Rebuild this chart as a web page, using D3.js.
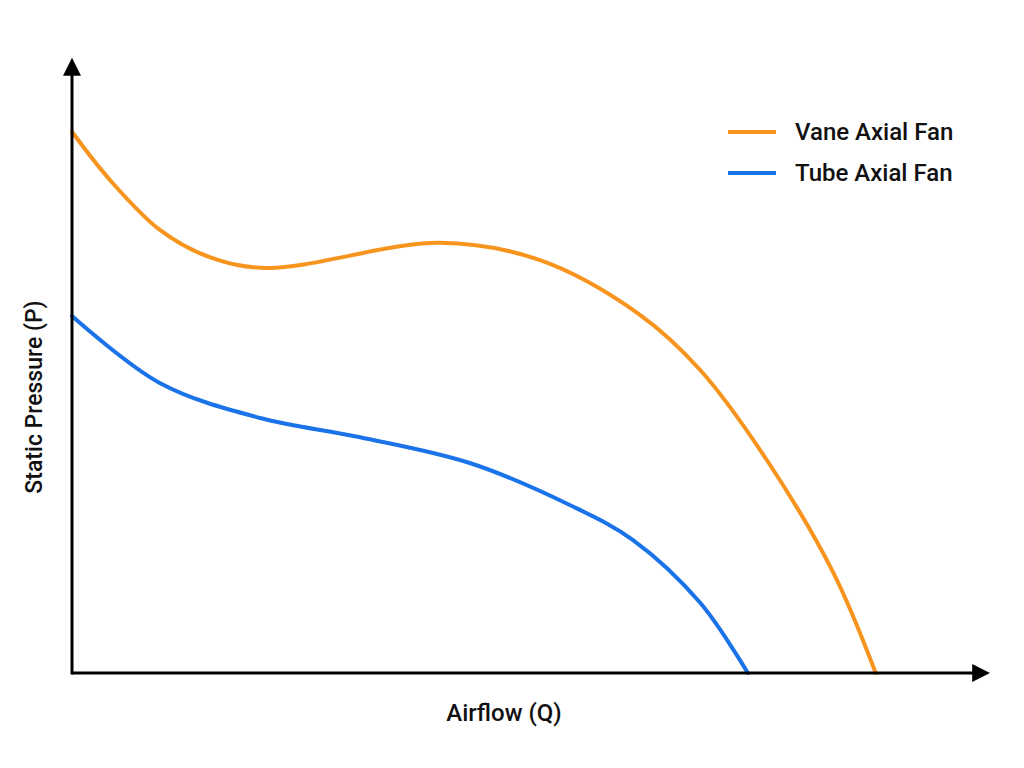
<!DOCTYPE html>
<html>
<head>
<meta charset="utf-8">
<script src="https://cdn.jsdelivr.net/npm/d3@7"></script>
<style>
  body { margin: 0; background: #fff; }
  svg text { font-family: Roboto, "Noto Sans", sans-serif; fill: #111; font-weight: 500; }
</style>
</head>
<body>
<svg id="chart"></svg>
<script>
// airflow (Q) positions, 0-100 scale
const vaneQ = [0, 4.2, 9.8, 15.3, 21.7, 40.9, 52, 63.1, 69.8, 77.2, 84.6, 89.3];
// static pressure (P), 0-100 scale
const vaneP = [90.2, 82.2, 73.8, 69.3, 67.5, 71.7, 68.8, 59.7, 50.5, 35.5, 16.7, 0];

const tubeQ = [0, 9.8, 20.9, 32, 44.2, 55.3, 62.3, 69.8, 75.1];
const tubeP = [59.5, 48.3, 42.5, 39.3, 35, 28, 22.2, 11.7, 0];

const seriesNames = ["Vane Axial Fan", "Tube Axial Fan"];
const seriesColors = ["#f7941d", "#1a73e8"];

const width = 1024, height = 768;
const margin = {top: 73, right: 52, bottom: 95, left: 72};

const svg = d3.select("#chart").attr("width", width).attr("height", height);

const x = d3.scaleLinear().domain([0, 100]).range([margin.left, width - margin.right]);
const y = d3.scaleLinear().domain([0, 100]).range([height - margin.bottom, margin.top]);

// arrow heads
const defs = svg.append("defs");
defs.append("marker")
    .attr("id", "arrow")
    .attr("viewBox", "0 0 10 10")
    .attr("refX", 1).attr("refY", 5)
    .attr("markerWidth", 6).attr("markerHeight", 6)
    .attr("markerUnits", "strokeWidth")
    .attr("orient", "auto")
  .append("path")
    .attr("d", "M0,0 L10,5 L0,10 Z")
    .attr("fill", "#000");

const line = d3.line()
    .x(d => x(d[0]))
    .y(d => y(d[1]))
    .curve(d3.curveCatmullRom.alpha(0.5));

const series = [
    d3.zip(vaneQ, vaneP),
    d3.zip(tubeQ, tubeP)
];

svg.selectAll(".curve")
    .data(series)
    .join("path")
    .attr("class", "curve")
    .attr("d", line)
    .attr("fill", "none")
    .attr("stroke", (d, i) => seriesColors[i])
    .attr("stroke-width", 4)
    .attr("stroke-linecap", "round");

// axes with arrows
svg.append("line")
    .attr("x1", x(0)).attr("y1", y(0))
    .attr("x2", x(100) + 2).attr("y2", y(0))
    .attr("stroke", "#000").attr("stroke-width", 3)
    .attr("marker-end", "url(#arrow)");

svg.append("line")
    .attr("x1", x(0)).attr("y1", y(0) + 1.5)
    .attr("x2", x(0)).attr("y2", y(100) + 1)
    .attr("stroke", "#000").attr("stroke-width", 3)
    .attr("marker-end", "url(#arrow)");

// axis labels
svg.append("text")
    .attr("x", 504).attr("y", 721)
    .attr("text-anchor", "middle")
    .style("font-size", "24px")
    .text("Airflow (Q)");

svg.append("text")
    .attr("transform", `translate(42, 397) rotate(-90)`)
    .attr("text-anchor", "middle")
    .style("font-size", "23px")
    .text("Static Pressure (P)");

// legend
const legend = svg.append("g").attr("transform", "translate(728, 132)");
const items = legend.selectAll("g")
    .data(seriesNames)
    .join("g")
    .attr("transform", (d, i) => `translate(0, ${i * 41})`);

items.append("line")
    .attr("x1", 0).attr("x2", 48)
    .attr("stroke", (d, i) => seriesColors[i])
    .attr("stroke-width", 4);

items.append("text")
    .attr("x", 67).attr("y", 8)
    .style("font-size", "24px")
    .text(d => d);
</script>
</body>
</html>
